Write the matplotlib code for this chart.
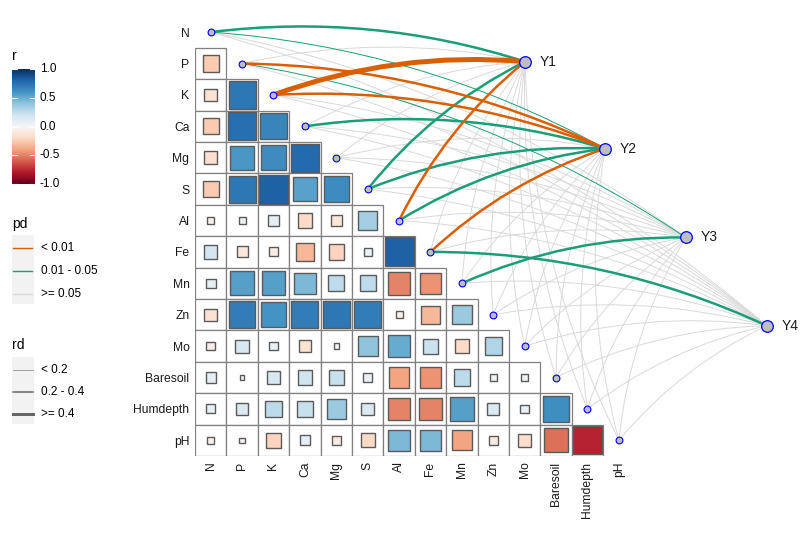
import numpy as np
import matplotlib.pyplot as plt
from matplotlib.patches import Rectangle, PathPatch
from matplotlib.path import Path

plt.rcParams['font.family'] = ['Liberation Sans', 'DejaVu Sans']

env_vars = ['N', 'P', 'K', 'Ca', 'Mg', 'S', 'Al', 'Fe', 'Mn', 'Zn', 'Mo',
            'Baresoil', 'Humdepth', 'pH']

# lower triangle of the correlation matrix, row i = r with columns 0..i-1
corr_rows = [
    [],
    [-0.26],
    [-0.15, 0.72],
    [-0.26, 0.76, 0.66],
    [-0.17, 0.58, 0.63, 0.78],
    [-0.26, 0.72, 0.82, 0.54, 0.63],
    [-0.04, 0.05, 0.10, -0.20, -0.12, 0.35],
    [0.18, -0.12, -0.08, -0.33, -0.23, 0.06, 0.82],
    [0.09, 0.55, 0.55, 0.45, 0.26, 0.26, -0.50, -0.45],
    [-0.15, 0.70, 0.60, 0.70, 0.72, 0.70, -0.05, -0.33, 0.37],
    [-0.07, 0.17, 0.07, -0.15, 0.03, 0.40, 0.50, 0.22, -0.20, 0.30],
    [0.10, 0.02, 0.17, 0.20, 0.23, 0.07, -0.40, -0.45, 0.26, 0.05, 0.04],
    [0.08, 0.15, 0.26, 0.23, 0.37, 0.15, -0.50, -0.50, 0.55, 0.15, 0.07, 0.62],
    [-0.04, -0.03, -0.23, 0.10, -0.08, -0.20, 0.45, 0.45, -0.40, -0.08,
     -0.17, -0.55, -0.77],
]

# mantel test results: one row per species set, one column per env variable
spec_names = ['Y1', 'Y2', 'Y3', 'Y4']
spec_pos = [(10.01, 0.94), (12.56, 3.71), (15.13, 6.54), (17.71, 9.35)]
mantel_r = [
    [0.25, 0.10, 0.45, 0.08, 0.05, 0.22, 0.21, 0.10, 0.05, 0.05, 0.03, 0.05, 0.04, 0.02],
    [0.15, 0.30, 0.32, 0.25, 0.10, 0.24, 0.22, 0.28, 0.06, 0.08, 0.05, 0.04, 0.05, 0.03],
    [0.06, 0.12, 0.05, 0.04, 0.03, 0.05, 0.08, 0.10, 0.22, 0.04, 0.05, 0.06, 0.05, 0.03],
    [0.04, 0.05, 0.03, 0.05, 0.04, 0.03, 0.10, 0.24, 0.06, 0.05, 0.04, 0.08, 0.06, 0.05],
]
mantel_p = [
    [0.02, 0.30, 0.001, 0.40, 0.50, 0.03, 0.005, 0.20, 0.60, 0.50, 0.70, 0.50, 0.60, 0.80],
    [0.03, 0.004, 0.002, 0.02, 0.20, 0.02, 0.04, 0.006, 0.40, 0.30, 0.50, 0.60, 0.50, 0.70],
    [0.40, 0.04, 0.50, 0.60, 0.70, 0.50, 0.30, 0.20, 0.02, 0.60, 0.50, 0.40, 0.50, 0.70],
    [0.60, 0.50, 0.70, 0.50, 0.60, 0.70, 0.20, 0.02, 0.40, 0.50, 0.60, 0.30, 0.40, 0.50],
]

pd_labels = ['< 0.01', '0.01 - 0.05', '>= 0.05']
pd_colors = ['#D95F02', '#1B9E77', '#D9D9D9']
rd_labels = ['< 0.2', '0.2 - 0.4', '>= 0.4']
rd_widths = [0.7, 1.8, 3.6]

fig = plt.figure(figsize=(8.09, 5.38), dpi=100)

# overlay in pixel coords for the legends
lg = fig.add_axes([0, 0, 1, 1])
lg.set_xlim(0, 809)
lg.set_ylim(538, 0)
lg.axis('off')

ax = fig.add_axes([195 / 809, 82 / 538, 606 / 809, 449 / 538])
ax.set_xlim(-0.5, 18.8)
ax.set_ylim(13.5, -0.8)
for s in ax.spines.values():
    s.set_visible(False)

cmap = plt.get_cmap('RdBu')

# heatmap cells
for i, row in enumerate(corr_rows):
    for j, r in enumerate(row):
        ax.add_patch(Rectangle((j - 0.5, i - 0.5), 1, 1, facecolor='white',
                               edgecolor='#808080', lw=0.9, zorder=1))
        side = min(np.sqrt(abs(r)) * 1.02, 0.95)
        ax.add_patch(Rectangle((j - side / 2, i - side / 2), side, side,
                               facecolor=cmap((r + 1) / 2), edgecolor='#5a5a5a',
                               lw=1.0, zorder=2))

ax.set_xticks(range(len(env_vars)))
ax.set_xticklabels(env_vars, rotation=90, va='top')
ax.set_yticks(range(len(env_vars)))
ax.set_yticklabels(env_vars)
ax.tick_params(length=0, labelsize=8.7, pad=4, colors='#1a1a1a')


def pd_class(p):
    return 0 if p < 0.01 else (1 if p < 0.05 else 2)


def rd_class(r):
    return 0 if r < 0.2 else (1 if r < 0.4 else 2)


def curve(ax, p0, p1, color, lw, z):
    dx, dy = p1[0] - p0[0], p1[1] - p0[1]
    c = 0.11
    ctrl = ((p0[0] + p1[0]) / 2 + c * dy, (p0[1] + p1[1]) / 2 - c * dx)
    path = Path([p0, ctrl, p1], [Path.MOVETO, Path.CURVE3, Path.CURVE3])
    ax.add_patch(PathPatch(path, facecolor='none', edgecolor=color, lw=lw,
                           zorder=z, capstyle='round', clip_on=False))


# gray links first, significant ones on top
for layer in (2, 1, 0):
    for k, sp in enumerate(spec_pos):
        for i in range(len(env_vars)):
            pc = pd_class(mantel_p[k][i])
            if pc != layer:
                continue
            curve(ax, (i, i), sp, pd_colors[pc],
                  rd_widths[rd_class(mantel_r[k][i])], 3 + (2 - layer))

idx = np.arange(len(env_vars))
ax.scatter(idx, idx, s=24, c='#BEBEBE', edgecolors='blue', linewidths=0.8,
           zorder=10, clip_on=False)
sx = [p[0] for p in spec_pos]
sy = [p[1] for p in spec_pos]
ax.scatter(sx, sy, s=70, c='#BEBEBE', edgecolors='blue', linewidths=0.9,
           zorder=10, clip_on=False)
for name, (x, y) in zip(spec_names, spec_pos):
    ax.text(x + 0.47, y, name, fontsize=10, ha='left', va='center',
            color='#1a1a1a')

# colour bar legend
cax = fig.add_axes([12 / 809, 1 - 184 / 538, 23 / 809, 115 / 538])
cax.imshow(np.linspace(-1, 1, 256)[:, None], cmap=cmap, vmin=-1, vmax=1,
           aspect='auto', origin='lower', extent=(0, 1, -1, 1))
for v in [-1, -0.5, 0, 0.5, 1]:
    cax.plot([0, 0.2], [v, v], color='white', lw=0.8)
    cax.plot([0.8, 1], [v, v], color='white', lw=0.8)
cax.set_xlim(0, 1)
cax.set_ylim(-1, 1)
cax.axis('off')
lg.text(12, 56, 'r', fontsize=10, va='center', ha='left')
for v in [1.0, 0.5, 0.0, -0.5, -1.0]:
    yy = 184 - (v + 1) / 2 * 115
    lg.text(40, yy, f'{v:.1f}', fontsize=8.5, va='center', ha='left')

# pd legend
lg.text(12, 224, 'pd', fontsize=10, va='center', ha='left')
lg.add_patch(Rectangle((12, 235), 22, 69, facecolor='#F2F2F2', edgecolor='none'))
for n, (lab, col) in enumerate(zip(pd_labels, pd_colors)):
    yy = 248 + n * 23
    lg.plot([13, 32], [yy, yy], color=col, lw=1.0)
    lg.text(41, yy, lab, fontsize=8.5, va='center', ha='left')

# rd legend
lg.text(12, 345, 'rd', fontsize=10, va='center', ha='left')
lg.add_patch(Rectangle((12, 357), 22, 67, facecolor='#F2F2F2', edgecolor='none'))
for n, (lab, w) in enumerate(zip(rd_labels, rd_widths)):
    yy = 370 + n * 22
    lg.plot([13, 33], [yy, yy], color='#666666', lw=w * 0.6)
    lg.text(41, yy, lab, fontsize=8.5, va='center', ha='left')

fig.savefig('out.png', dpi=100)
